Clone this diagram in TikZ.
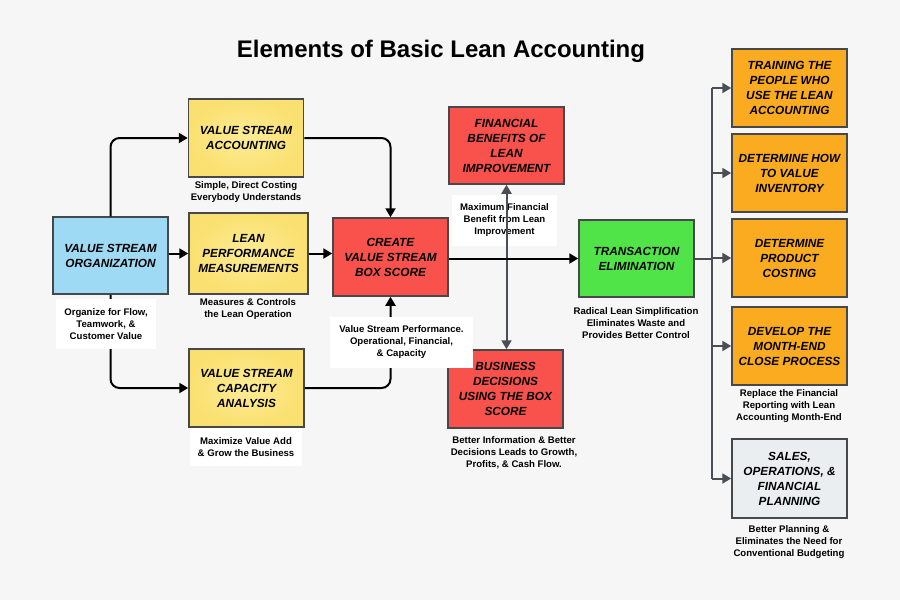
\documentclass[tikz,border=0pt]{standalone}
\usepackage{fontspec}
\setmainfont{Liberation Sans}
\usetikzlibrary{arrows.meta,calc}
\definecolor{bg}{RGB}{246,246,246}
\definecolor{bdr}{RGB}{70,72,76}
\definecolor{cblue}{RGB}{158,218,243}
\definecolor{cyel}{RGB}{250,224,112}
\definecolor{cyelin}{RGB}{253,236,150}
\definecolor{cred}{RGB}{249,82,76}
\definecolor{cgreen}{RGB}{80,228,72}
\definecolor{corange}{RGB}{251,171,31}
\definecolor{cgray}{RGB}{235,238,240}
\definecolor{gline}{RGB}{74,79,87}
\tikzset{
  box/.style={draw=bdr, line width=1.5pt, minimum width=115pt, minimum height=78pt, inner sep=0pt,
    align=center, font=\fontsize{11.8}{15}\selectfont\bfseries\itshape},
  ybox/.style={box, inner color=cyelin, outer color=cyel},
  lab/.style={align=center, inner sep=0pt, font=\fontsize{9.6}{12}\selectfont\bfseries},
  wlab/.style={lab, fill=white},
  arr/.style={line width=2pt, draw=black, -{Triangle[length=9pt,width=10pt]}},
  garr/.style={line width=2pt, draw=gline, -{Triangle[length=9pt,width=10pt]}},
  gl/.style={line width=2pt, draw=gline},
}
\begin{document}
\begin{tikzpicture}[x=1pt,y=-1pt]
\fill[bg] (0,0) rectangle (900,600);
\useasboundingbox (0,0) rectangle (900,600);

\node[font=\fontsize{24}{28}\selectfont\bfseries] (title) at (441,51) {Elements of Basic Lean Accounting};

% boxes
\node[box, fill=cblue, minimum height=77pt] (vso) at (110.5,255.5) {VALUE STREAM\\ORGANIZATION};
\node[ybox] (vsa) at (246,138) {VALUE STREAM\\ACCOUNTING};
\node[ybox, minimum width=119pt, minimum height=81pt] (lpm) at (248.5,253.5) {LEAN\\PERFORMANCE\\MEASUREMENTS};
\node[ybox] (vsca) at (246.5,388) {VALUE STREAM\\CAPACITY\\ANALYSIS};
\node[box, fill=cred] (cbs) at (390.5,257) {CREATE\\VALUE STREAM\\BOX SCORE};
\node[box, fill=cred, minimum height=77pt] (fb) at (506.5,145.5) {FINANCIAL\\BENEFITS OF\\LEAN\\IMPROVEMENT};
\node[box, fill=cred] (bd) at (505.5,389) {BUSINESS\\DECISIONS\\USING THE BOX\\SCORE};
\node[box, fill=cgreen, minimum height=77pt] (te) at (636.5,258.5) {TRANSACTION\\ELIMINATION};
\node[box, fill=corange] (r1) at (789.5,88) {TRAINING THE\\PEOPLE WHO\\USE THE LEAN\\ACCOUNTING};
\node[box, fill=corange] (r2) at (789.5,173) {DETERMINE HOW\\TO VALUE\\INVENTORY};
\node[box, fill=corange] (r3) at (789.5,258) {DETERMINE\\PRODUCT\\COSTING};
\node[box, fill=corange] (r4) at (789.5,346) {DEVELOP THE\\MONTH-END\\CLOSE PROCESS};
\node[box, fill=cgray, minimum height=79pt] (r5) at (789.5,478.5) {SALES,\\OPERATIONS, \&\\FINANCIAL\\PLANNING};

% connectors left part
\draw[arr, rounded corners=9pt] (vso.north) |- (vsa.west);
\draw[arr] (vso.east |- lpm.west) -- (lpm.west);
\draw[arr, rounded corners=9pt] (vso.south) |- (vsca.west);
\draw[arr, rounded corners=9pt] (vsa.east) -| (cbs.north);
\draw[arr] (lpm.east) -- (lpm.east -| cbs.west);
\draw[arr, rounded corners=9pt] (vsca.east) -| (cbs.south);

% labels with white background
\node[wlab, minimum width=100pt, minimum height=50pt] (lorg) at (106,324) {Organize for Flow,\\Teamwork, \&\\Customer Value};
\node[wlab, minimum width=112pt, minimum height=38pt] (lmax) at (246,447) {Maximize Value Add\\\& Grow the Business};
\node[wlab, minimum width=143pt, minimum height=51pt] (lvsp) at (401.5,342.5) {Value Stream Performance.\\Operational, Financial,\\\& Capacity};
\node[wlab, minimum width=105pt, minimum height=51pt] (lmfb) at (504.5,220.5) {Maximum Financial\\Benefit from Lean\\Improvement};

% vertical two-way connector
\draw[gl, {Triangle[length=9pt,width=10pt]}-{Triangle[length=9pt,width=10pt]}] (fb.south) -- (fb.south |- bd.north);
% box score to transaction elimination
\draw[arr] (cbs.east |- te.west) -- (te.west);

% bus on the right
\coordinate (bus) at (712,0);
\draw[gl] (te.east) -- (te.east -| bus);
\draw[gl] (bus |- r1.west) -- (bus |- r5.west);
\foreach \r in {r1,r2,r3,r4,r5} {\draw[garr] (bus |- \r.west) -- (\r.west);}

% plain labels
\node[lab] (lsdc) at (246,192.5) {Simple, Direct Costing\\Everybody Understands};
\node[lab] (lmc) at (248,309) {Measures \& Controls\\the Lean Operation};
\node[lab] (lbi) at (514,453) {Better Information \& Better\\Decisions Leads to Growth,\\Profits, \& Cash Flow.};
\node[lab] (lrls) at (636,323) {Radical Lean Simplification\\Eliminates Waste and\\Provides Better Control};
\node[lab] (lrep) at (789,406) {Replace the Financial\\Reporting with Lean\\Accounting Month-End};
\node[lab] (lbp) at (789,542) {Better Planning \&\\Eliminates the Need for\\Conventional Budgeting};
\end{tikzpicture}
\end{document}
